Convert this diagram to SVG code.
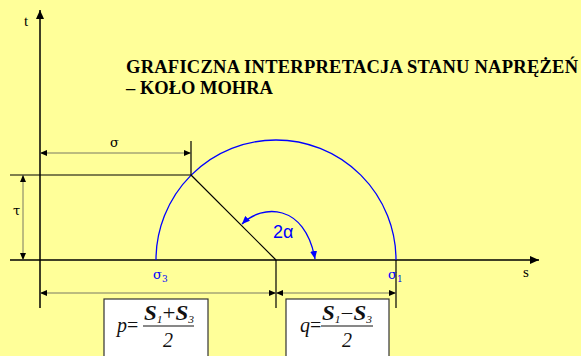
<svg xmlns="http://www.w3.org/2000/svg" width="581" height="356" viewBox="0 0 581 356">
<style>
.axis{stroke:#000;stroke-width:1.5;fill:none}
.ln{stroke:#000;stroke-width:1.2;fill:none}
.dim{stroke:#555;stroke-width:0.8;fill:none}
.blue{stroke:#0000ff;stroke-width:1.3;fill:none}
.title{font-family:"Liberation Serif","Times New Roman",serif;font-weight:bold;font-size:18.5px;fill:#000}
.lbl{font-family:"Liberation Serif","Times New Roman",serif;font-size:15px;fill:#000}
.sym{font-family:"DejaVu Serif","Liberation Serif",serif;font-size:13px;fill:#000}
.bsym{font-family:"DejaVu Serif","Liberation Serif",serif;font-size:13px;fill:#0000ff}
.math{font-family:"Liberation Serif","Times New Roman",serif;font-size:20px;fill:#111}
.box{fill:#fff;stroke:#333;stroke-width:1.2}
</style>
<defs>
<marker id="axArrow" markerUnits="userSpaceOnUse" markerWidth="10" markerHeight="8" refX="9" refY="4" orient="auto"><path d="M0,0 L9,4 L0,8 z" fill="#000"/></marker>
<marker id="dArrow" markerUnits="userSpaceOnUse" markerWidth="8" markerHeight="6" refX="7" refY="3" orient="auto-start-reverse"><path d="M0,0 L7,3 L0,6 z" fill="#000"/></marker>
<marker id="bArrow" markerUnits="userSpaceOnUse" markerWidth="9" markerHeight="7" refX="8" refY="3.5" orient="auto-start-reverse"><path d="M0,0 L8,3.5 L0,7 z" fill="#0000ff"/></marker>
</defs>
<rect width="581" height="356" fill="#ffff99"/>

<g id="title">
<text class="title" x="126" y="73" textLength="452" lengthAdjust="spacing">GRAFICZNA INTERPRETACJA STANU NAPRĘŻEŃ</text>
<text class="title" x="126" y="94">– KOŁO MOHRA</text>
</g>

<g id="axes">
<line class="axis" x1="40" y1="308" x2="40" y2="10" marker-end="url(#axArrow)"/>
<line class="axis" x1="10" y1="260" x2="539" y2="260" marker-end="url(#axArrow)"/>
<text class="lbl" x="24" y="26">t</text>
<text class="lbl" x="523" y="277">s</text>
</g>

<g id="circle">
<path class="blue" d="M156,260 A120,120 0 0 1 396,260"/>
</g>

<g id="connectors">
<line class="ln" x1="10" y1="175" x2="191" y2="175"/>
<line class="ln" x1="191" y1="141" x2="191" y2="175"/>
<line class="ln" x1="191" y1="175" x2="276" y2="260"/>
<line class="ln" x1="276" y1="260" x2="276" y2="308"/>
<line class="ln" x1="396" y1="260" x2="396" y2="308"/>
<line class="dim" x1="40" y1="153" x2="191" y2="153" marker-start="url(#dArrow)" marker-end="url(#dArrow)"/>
<line class="dim" x1="23" y1="175" x2="23" y2="260" marker-start="url(#dArrow)" marker-end="url(#dArrow)"/>
<line class="dim" x1="40" y1="293" x2="276" y2="293" marker-start="url(#dArrow)" marker-end="url(#dArrow)"/>
<line class="dim" x1="276" y1="293" x2="396" y2="293" marker-start="url(#dArrow)" marker-end="url(#dArrow)"/>
<path class="blue" d="M242,224 C262,204 305,203 315,259" marker-start="url(#bArrow)" marker-end="url(#bArrow)"/>
</g>

<g id="labels">
<text class="sym" x="110" y="147">σ</text>
<text class="sym" x="13" y="215">τ</text>
<text class="bsym" x="153" y="279">σ<tspan font-size="9" dy="3">3</tspan></text>
<text class="bsym" x="388" y="279">σ<tspan font-size="9" dy="3">1</tspan></text>
<text x="273" y="238" font-family="Liberation Sans, Arial, sans-serif" font-size="18" fill="#0000ff">2α</text>
</g>

<g id="box-p">
<rect class="box" x="104" y="299" width="104" height="70"/>
<text class="math" x="117" y="332"><tspan font-style="italic">p</tspan>=</text>
<line x1="143" y1="326" x2="194" y2="326" stroke="#111" stroke-width="1"/>
<text class="math" x="144" y="320" font-size="17" textLength="50" lengthAdjust="spacingAndGlyphs"><tspan font-weight="bold" font-style="italic">S</tspan><tspan font-size="10" font-style="italic" dy="3">1</tspan><tspan dy="-3">+</tspan><tspan font-weight="bold" font-style="italic">S</tspan><tspan font-size="10" font-style="italic" dy="3">3</tspan></text>
<text class="math" x="168" y="347" font-size="18" font-style="italic" text-anchor="middle">2</text>
</g>

<g id="box-q">
<rect class="box" x="286" y="299" width="103" height="70"/>
<text class="math" x="300" y="332"><tspan font-style="italic">q</tspan>=</text>
<line x1="321" y1="326" x2="373" y2="326" stroke="#111" stroke-width="1"/>
<text class="math" x="322" y="320" font-size="17" textLength="50" lengthAdjust="spacingAndGlyphs"><tspan font-weight="bold" font-style="italic">S</tspan><tspan font-size="10" font-style="italic" dy="3">1</tspan><tspan dy="-3">−</tspan><tspan font-weight="bold" font-style="italic">S</tspan><tspan font-size="10" font-style="italic" dy="3">3</tspan></text>
<text class="math" x="347" y="347" font-size="18" font-style="italic" text-anchor="middle">2</text>
</g>
</svg>
